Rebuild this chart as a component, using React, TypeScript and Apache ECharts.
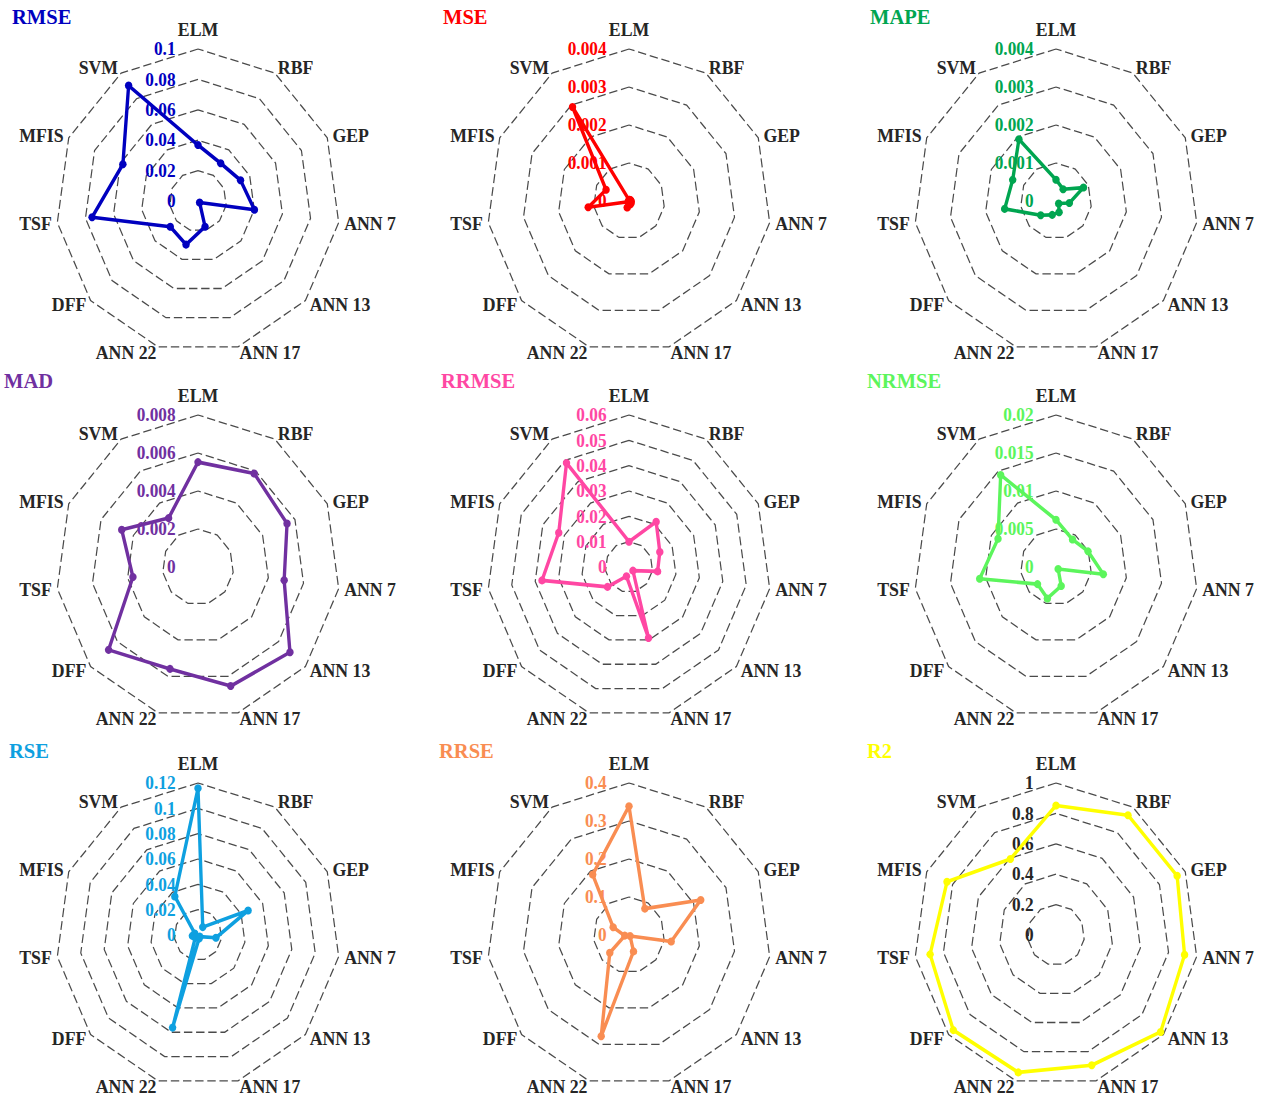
import React, { useEffect, useRef } from 'react';
import * as echarts from 'echarts';

// Indicators, clockwise from the top
const categories = ['ELM', 'RBF', 'GEP', 'ANN 7', 'ANN 13', 'ANN 17', 'ANN 22', 'DFF', 'TSF', 'MFIS', 'SVM'];

const titles = ['RMSE', 'MSE', 'MAPE', 'MAD', 'RRMSE', 'NRMSE', 'RSE', 'RRSE', 'R2'];
const axisMax = [0.1, 0.004, 0.004, 0.008, 0.06, 0.02, 0.12, 0.4, 1];
const axisSplits = [5, 4, 4, 4, 6, 4, 6, 4, 5];

const rmse = [0.0368, 0.0295, 0.0329, 0.0401, 0.0015, 0.0176, 0.0299, 0.0258, 0.0753, 0.0581, 0.0903];
const mse = [0.00003, 0.00004, 0.00005, 0.00006, 0.00008, 0.0001, 0.00018, 0.00003, 0.00116, 0.00071, 0.00294];
const mape = [0.00056, 0.00037, 0.00085, 0.00038, 0.0001, 0.00031, 0.00038, 0.00057, 0.00146, 0.00134, 0.00193];
const mad = [0.00552, 0.00585, 0.00551, 0.0049, 0.00685, 0.00653, 0.00559, 0.00666, 0.0037, 0.00472, 0.00306];
const rrmse = [0.01, 0.0212, 0.0143, 0.0122, 0.0022, 0.0292, 0.0038, 0.012, 0.0371, 0.0326, 0.0488];
const nrmse = [0.00621, 0.0043, 0.00496, 0.00673, 0.0004, 0.0026, 0.00431, 0.00344, 0.01085, 0.00897, 0.0144];
const rse = [0.1158, 0.0074, 0.0465, 0.0153, 0.002, 0.003, 0.0762, 0.003, 0.0048, 0.003, 0.0362];
const rrse = [0.339, 0.0826, 0.222, 0.12, 0.004, 0.045, 0.2776, 0.0715, 0.012, 0.049, 0.189];
const r2 = [0.852, 0.937, 0.937, 0.914, 0.974, 0.893, 0.942, 0.956, 0.895, 0.843, 0.594];

const seriesValues = [rmse, mse, mape, mad, rrmse, nrmse, rse, rrse, r2];

const colors = ['#0000BF', '#FF0000', '#00A550', '#7030A0', '#FF47A3', '#5CF55C', '#0EA0E0', '#F98D52', '#FFFF00'];
const tickLabelColors = ['#0000BF', '#FF0000', '#00A550', '#7030A0', '#FF47A3', '#5CF55C', '#0EA0E0', '#F98D52', '#262626'];

// layout (in picture pixels)
const W = 1266;
const H = 1097;
const SQUEEZE = 0.935;
const colX = [198, 629, 1056];
const rowY = [201, 567, 935];
const RADIUS = 152;
const titleLeft = [12, 443, 870, 4, 441, 867, 9, 439, 867];
const titleTop = [6, 370, 740];

// ECharts radar runs counter-clockwise; reorder so the picture reads clockwise
const order = [0, 10, 9, 8, 7, 6, 5, 4, 3, 2, 1];

const SERIF = "'Liberation Serif', 'DejaVu Serif', serif";

function buildOption() {
  const radar: any[] = [];
  const series: any[] = [];
  const title: any[] = [];
  for (let k = 0; k < 9; k++) {
    const col = k % 3;
    const row = Math.floor(k / 3);
    const color = colors[k];
    const indicator = order.map((i, j) => {
      const ind: any = { name: categories[i], min: 0, max: axisMax[k] };
      if (j === 0) {
        ind.axisLabel = {
          show: true,
          color: tickLabelColors[k],
          fontFamily: SERIF,
          fontWeight: 'bold',
          fontSize: 18.5,
          margin: 24,
          showMinLabel: true,
          showMaxLabel: true,
        };
      }
      return ind;
    });
    radar.push({
      center: [colX[col] / SQUEEZE, rowY[row]],
      radius: RADIUS,
      startAngle: 90,
      shape: 'polygon',
      splitNumber: axisSplits[k],
      indicator,
      nameGap: 6,
      axisName: {
        color: '#262626',
        fontFamily: SERIF,
        fontWeight: 'bold',
        fontSize: 19,
      },
      splitLine: { lineStyle: { color: '#4a4a4a', width: 1.3, type: [9, 4] } },
      splitArea: { show: false },
      axisLine: { show: false },
      axisTick: { show: false },
      axisLabel: { show: false },
    });
    series.push({
      type: 'radar',
      radarIndex: k,
      symbol: 'circle',
      symbolSize: 8,
      lineStyle: { color, width: 3.6 },
      itemStyle: { color },
      z: 3,
      data: [{ name: titles[k], value: order.map((i) => seriesValues[k][i]) }],
    });
    title.push({
      text: titles[k],
      left: titleLeft[k] / SQUEEZE,
      top: titleTop[row],
      padding: 0,
      textStyle: {
        color,
        fontFamily: SERIF,
        fontWeight: 'bold',
        fontSize: 22,
      },
    });
  }
  return {
    animation: false,
    backgroundColor: '#ffffff',
    title,
    radar,
    series,
  };
}

export default function App() {
  const ref = useRef<HTMLDivElement>(null);
  useEffect(() => {
    if (!ref.current) return;
    const chart = echarts.init(ref.current, undefined, { renderer: 'svg' });
    chart.setOption(buildOption());
    return () => chart.dispose();
  }, []);
  return (
    <div
      style={{
        position: 'absolute',
        left: 0,
        top: 0,
        width: W,
        height: H,
        overflow: 'hidden',
        background: '#ffffff',
      }}
    >
      <div
        ref={ref}
        style={{
          width: W / SQUEEZE,
          height: H,
          transform: `scaleX(${SQUEEZE})`,
          transformOrigin: '0 0',
        }}
      />
    </div>
  );
}
